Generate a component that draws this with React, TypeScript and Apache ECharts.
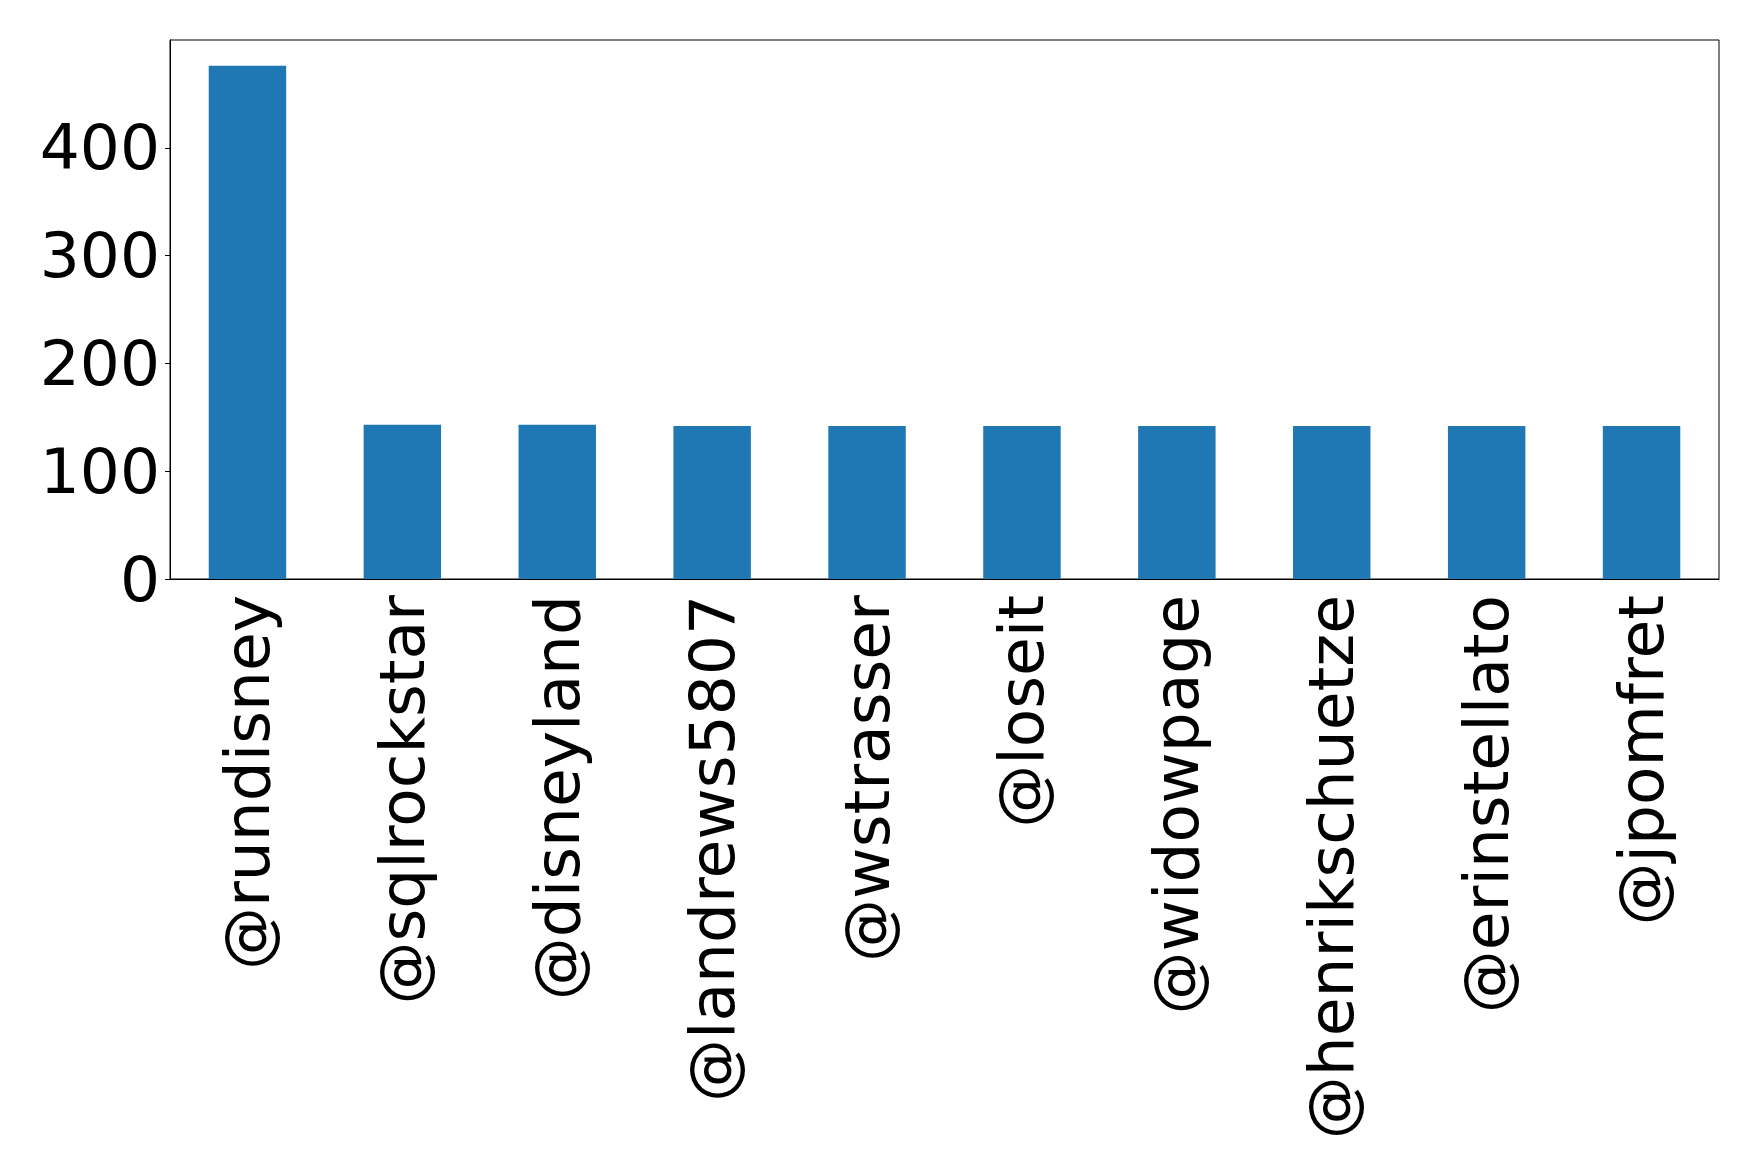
import React, {useEffect, useRef} from 'react';
import * as echarts from 'echarts';

const accounts = [
  '@rundisney', '@sqlrockstar', '@disneyland', '@landrews5807', '@wstrasser',
  '@loseit', '@widowpage', '@henrikschuetze', '@erinstellato', '@jpomfret',
];
const counts = [476, 143, 143, 142, 142, 142, 142, 142, 142, 142];
const yTicks = [0, 100, 200, 300, 400];

const FONT = '"DejaVu Sans", sans-serif';

const App: React.FC = () => {
  const chartRef = useRef<HTMLDivElement | null>(null);

  useEffect(() => {
    document.body.style.margin = '0';
    if (!chartRef.current) return;
    const chart = echarts.init(chartRef.current, undefined, {renderer: 'svg'});

    const option: echarts.EChartsOption = {
      animation: false,
      backgroundColor: '#ffffff',
      grid: {
        left: 170,
        right: 40,
        top: 40,
        bottom: 589,
        show: true,
        borderColor: '#000000',
        borderWidth: 1,
        backgroundColor: 'transparent',
      },
      xAxis: {
        type: 'category',
        data: accounts,
        axisLine: {lineStyle: {color: '#000000', width: 1}},
        axisTick: {alignWithLabel: true, length: 5, lineStyle: {color: '#000000'}},
        axisLabel: {
          rotate: 90,
          interval: 0,
          margin: 16,
          fontSize: 63,
          fontFamily: FONT,
          color: '#000000',
        },
        splitLine: {show: false},
      },
      yAxis: {
        type: 'value',
        min: 0,
        max: 500,
        interval: 100,
        axisLine: {show: true, lineStyle: {color: '#000000', width: 1}},
        axisTick: {show: true, length: 5, lineStyle: {color: '#000000'}, customValues: yTicks},
        axisLabel: {
          margin: 10,
          fontSize: 63,
          fontFamily: FONT,
          color: '#000000',
          customValues: yTicks,
        },
        splitLine: {show: false},
      },
      series: [
        {
          type: 'bar',
          data: counts,
          barWidth: '50%',
          itemStyle: {color: '#1f77b4'},
        },
      ],
    };

    chart.setOption(option);
    return () => {
      chart.dispose();
    };
  }, []);

  return <div ref={chartRef} style={{width: '1759px', height: '1168px'}}/>;
};

export default App;
